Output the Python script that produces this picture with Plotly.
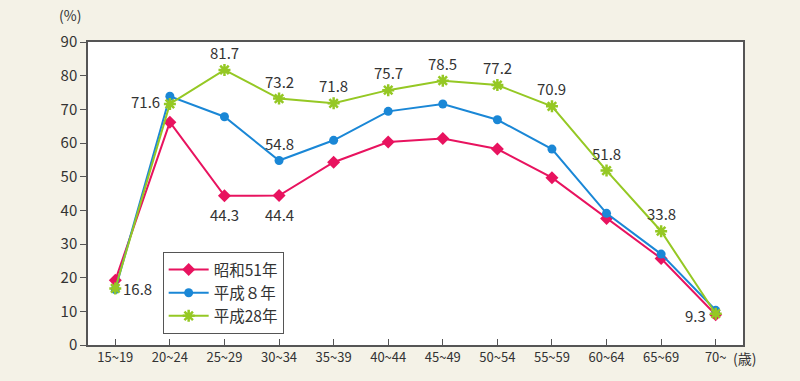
import plotly.graph_objects as go

categories = ["15~19", "20~24", "25~29", "30~34", "35~39", "40~44",
              "45~49", "50~54", "55~59", "60~64", "65~69", "70~"]
s51 = [19.2, 66.2, 44.3, 44.4, 54.3, 60.3, 61.3, 58.2, 49.7, 37.6, 25.7, 9.0]
h8 = [16.5, 73.9, 67.8, 54.8, 60.8, 69.4, 71.6, 66.9, 58.2, 39.1, 27.0, 10.3]
h28 = [16.8, 71.6, 81.7, 73.2, 71.8, 75.7, 78.5, 77.2, 70.9, 51.8, 33.8, 9.3]
yticks = [0, 10, 20, 30, 40, 50, 60, 70, 80, 90]

FONT = "Noto Sans CJK JP"
BG = "#f4f2e7"
AX = "#555555"

fig = go.Figure()
fig.add_trace(go.Scatter(x=categories, y=s51, name="昭和51年", mode="lines+markers",
                         line=dict(color="#e8135f", width=2),
                         marker=dict(symbol="diamond", size=10, color="#e8135f")))
fig.add_trace(go.Scatter(x=categories, y=h8, name="平成８年", mode="lines+markers",
                         line=dict(color="#1a87d6", width=2),
                         marker=dict(symbol="circle", size=9, color="#1a87d6")))
fig.add_trace(go.Scatter(x=categories, y=h28, name="平成28年", mode="lines+markers",
                         line=dict(color="#95c824", width=2),
                         marker=dict(symbol="asterisk", size=10,
                                     line=dict(color="#95c824", width=2.5))))

# data labels
ann = []
for i, (c, v) in enumerate(zip(categories, h28)):
    if i == 0:
        ann.append(dict(x=c, y=v, text=f"{v}", xanchor="left", yanchor="middle", xshift=6, yshift=0))
    elif i == 1:
        ann.append(dict(x=c, y=v, text=f"{v}", xanchor="right", yanchor="middle", xshift=-8, yshift=2))
    elif i == 11:
        ann.append(dict(x=c, y=v, text=f"{v}", xanchor="right", yanchor="middle", xshift=-8, yshift=-2))
    else:
        ann.append(dict(x=c, y=v, text=f"{v}", xanchor="center", yanchor="bottom", yshift=5))
ann.append(dict(x=categories[3], y=h8[3], text=f"{h8[3]}", xanchor="center", yanchor="bottom", yshift=5))
ann.append(dict(x=categories[2], y=s51[2], text=f"{s51[2]}", xanchor="center", yanchor="top", yshift=-6))
ann.append(dict(x=categories[3], y=s51[3], text=f"{s51[3]}", xanchor="center", yanchor="top", yshift=-6))
for a in ann:
    a.update(showarrow=False, font=dict(family=FONT, size=15, color="#333333"))
ann.append(dict(xref="paper", yref="paper", x=-0.008, y=1.05, text="(%)", showarrow=False,
                xanchor="right", yanchor="bottom", font=dict(family=FONT, size=14, color="#333333")))
ann.append(dict(xref="paper", yref="paper", x=0.982, y=-0.042, text="(歳)", showarrow=False,
                xanchor="left", yanchor="middle", font=dict(family=FONT, size=14, color="#333333")))

fig.update_layout(
    width=800, height=381,
    paper_bgcolor=BG, plot_bgcolor="white",
    margin=dict(l=88, r=57, t=42, b=36, autoexpand=False),
    font=dict(family=FONT, color="#333333"),
    annotations=ann,
    showlegend=True,
    legend=dict(x=0.114, y=0.307, xanchor="left", yanchor="top",
                bgcolor="white", bordercolor=AX, borderwidth=1,
                font=dict(family=FONT, size=15.5, color="#333333"),
                tracegroupgap=0, itemwidth=40),
    xaxis=dict(type="category", range=[-0.5, 11.5], showgrid=False, automargin=False,
               showline=True, linecolor=AX, linewidth=1.5, mirror=True,
               ticks="inside", ticklen=6, tickcolor=AX,
               tickfont=dict(family=FONT, size=13, color="#333333")),
    yaxis=dict(range=[0, 90], tickvals=yticks, showgrid=False, automargin=False,
               showline=True, linecolor=AX, linewidth=1.5, mirror=True,
               ticks="outside", ticklen=6, tickcolor=AX,
               tickfont=dict(family=FONT, size=15, color="#333333")),
)

fig.write_html("out.html", config={"displayModeBar": False},
               post_script="document.body.style.margin='0';document.body.style.padding='0';document.body.style.overflow='hidden';")
